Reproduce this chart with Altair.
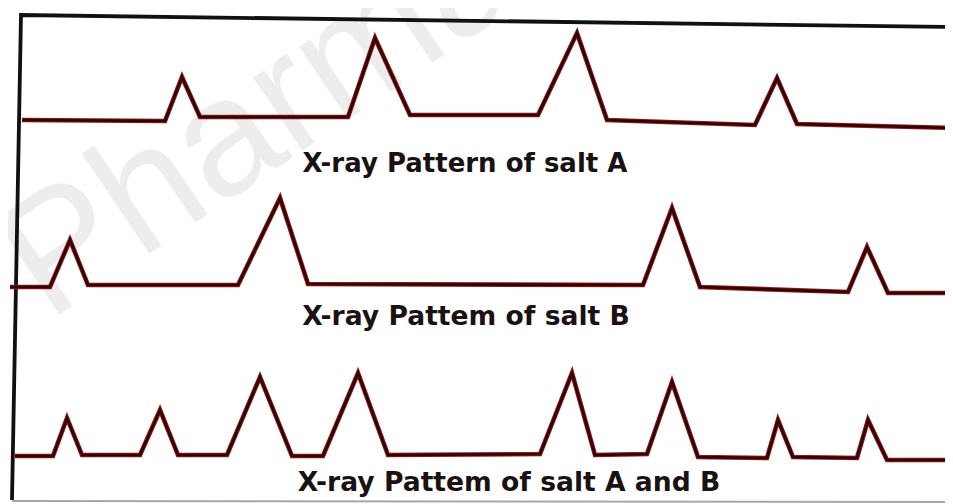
import altair as alt
import pandas as pd

# Positions (horizontal position, vertical level)
salt_a_x = [22, 165, 182, 200, 348, 375, 410, 538, 577, 607, 755, 777, 797, 953]
salt_a_y = [120, 121, 77, 117, 117, 38, 115, 115, 33, 120, 125, 78, 124, 128]

salt_b_x = [10, 50, 70, 88, 238, 280, 308, 643, 672, 700, 848, 867, 888, 953]
salt_b_y = [287, 287, 240, 285, 285, 198, 284, 285, 208, 287, 292, 247, 293, 293]

salt_ab_x = [15, 53, 67, 82, 140, 160, 178, 227, 260, 292, 323, 358, 388,
             540, 572, 595, 647, 672, 698, 767, 778, 793, 857, 868, 887, 953]
salt_ab_y = [456, 456, 418, 455, 455, 410, 455, 455, 377, 456, 456, 373, 455,
             454, 373, 455, 454, 382, 457, 458, 420, 457, 458, 420, 460, 460]

frame_x = [953, 21, 12]
frame_y = [27, 15, 500]

bottom_x = [12, 953]
bottom_y = [501, 502]

labels = ["X-ray Pattern of salt A", "X-ray Pattem of salt B", "X-ray Pattem of salt A and B"]
watermark = "Pharmacy"

rows = []
for name, xs_, ys_ in [("A", salt_a_x, salt_a_y), ("B", salt_b_x, salt_b_y), ("AB", salt_ab_x, salt_ab_y)]:
    for i, (xv, yv) in enumerate(zip(xs_, ys_)):
        rows.append({"pattern": name, "pos": xv, "level": yv, "i": i})
patterns = pd.DataFrame(rows)
frame = pd.DataFrame({"pos": frame_x, "level": frame_y, "i": list(range(len(frame_x)))})
bottom = pd.DataFrame({"pos": bottom_x, "level": bottom_y, "i": [0, 1]})

xs = alt.Scale(domain=[8, 945], nice=False, zero=False)
ys = alt.Scale(domain=[8, 504], nice=False, zero=False, reverse=True)

def enc(ch):
    return ch.encode(
        x=alt.X("pos:Q", scale=xs, axis=None),
        y=alt.Y("level:Q", scale=ys, axis=None),
        order="i:O",
    )

wm = alt.Chart(pd.DataFrame({"t": [watermark]})).mark_text(
    font="Liberation Sans", fontSize=166, angle=326, align="left", baseline="alphabetic",
    fill="#ededed"
).encode(text="t:N", x=alt.value(40), y=alt.value(314))

bottom_line = enc(alt.Chart(bottom).mark_line(color="#a8a8a8", strokeWidth=2))
frame_line = enc(alt.Chart(frame).mark_line(color="#111111", strokeWidth=3.8, strokeJoin="miter"))

halo = alt.Chart(patterns).mark_line(color="#8e1616", strokeWidth=4.6, strokeJoin="miter").encode(
    x=alt.X("pos:Q", scale=xs, axis=None),
    y=alt.Y("level:Q", scale=ys, axis=None),
    detail="pattern:N",
    order="i:O",
)
core = alt.Chart(patterns).mark_line(color="#2e0404", strokeWidth=2.6, strokeJoin="miter").encode(
    x=alt.X("pos:Q", scale=xs, axis=None),
    y=alt.Y("level:Q", scale=ys, axis=None),
    detail="pattern:N",
    order="i:O",
)

def label(txt, cx, by, size):
    return alt.Chart(pd.DataFrame({"t": [txt]})).mark_text(
        font="DejaVu Sans", fontWeight="bold", fontSize=size, align="center",
        baseline="alphabetic", color="#1a1212"
    ).encode(text="t:N", x=alt.value(cx), y=alt.value(by))

chart = alt.layer(
    wm, bottom_line, frame_line, halo, core,
    label(labels[0], 457, 164, 26),
    label(labels[1], 458, 317, 26.6),
    label(labels[2], 501, 483, 26.6),
).properties(width=937, height=496, padding=0, autosize="none", background="white"
).configure_view(stroke=None)

chart.save("out.html", embed_options={"renderer": "svg", "actions": False})
